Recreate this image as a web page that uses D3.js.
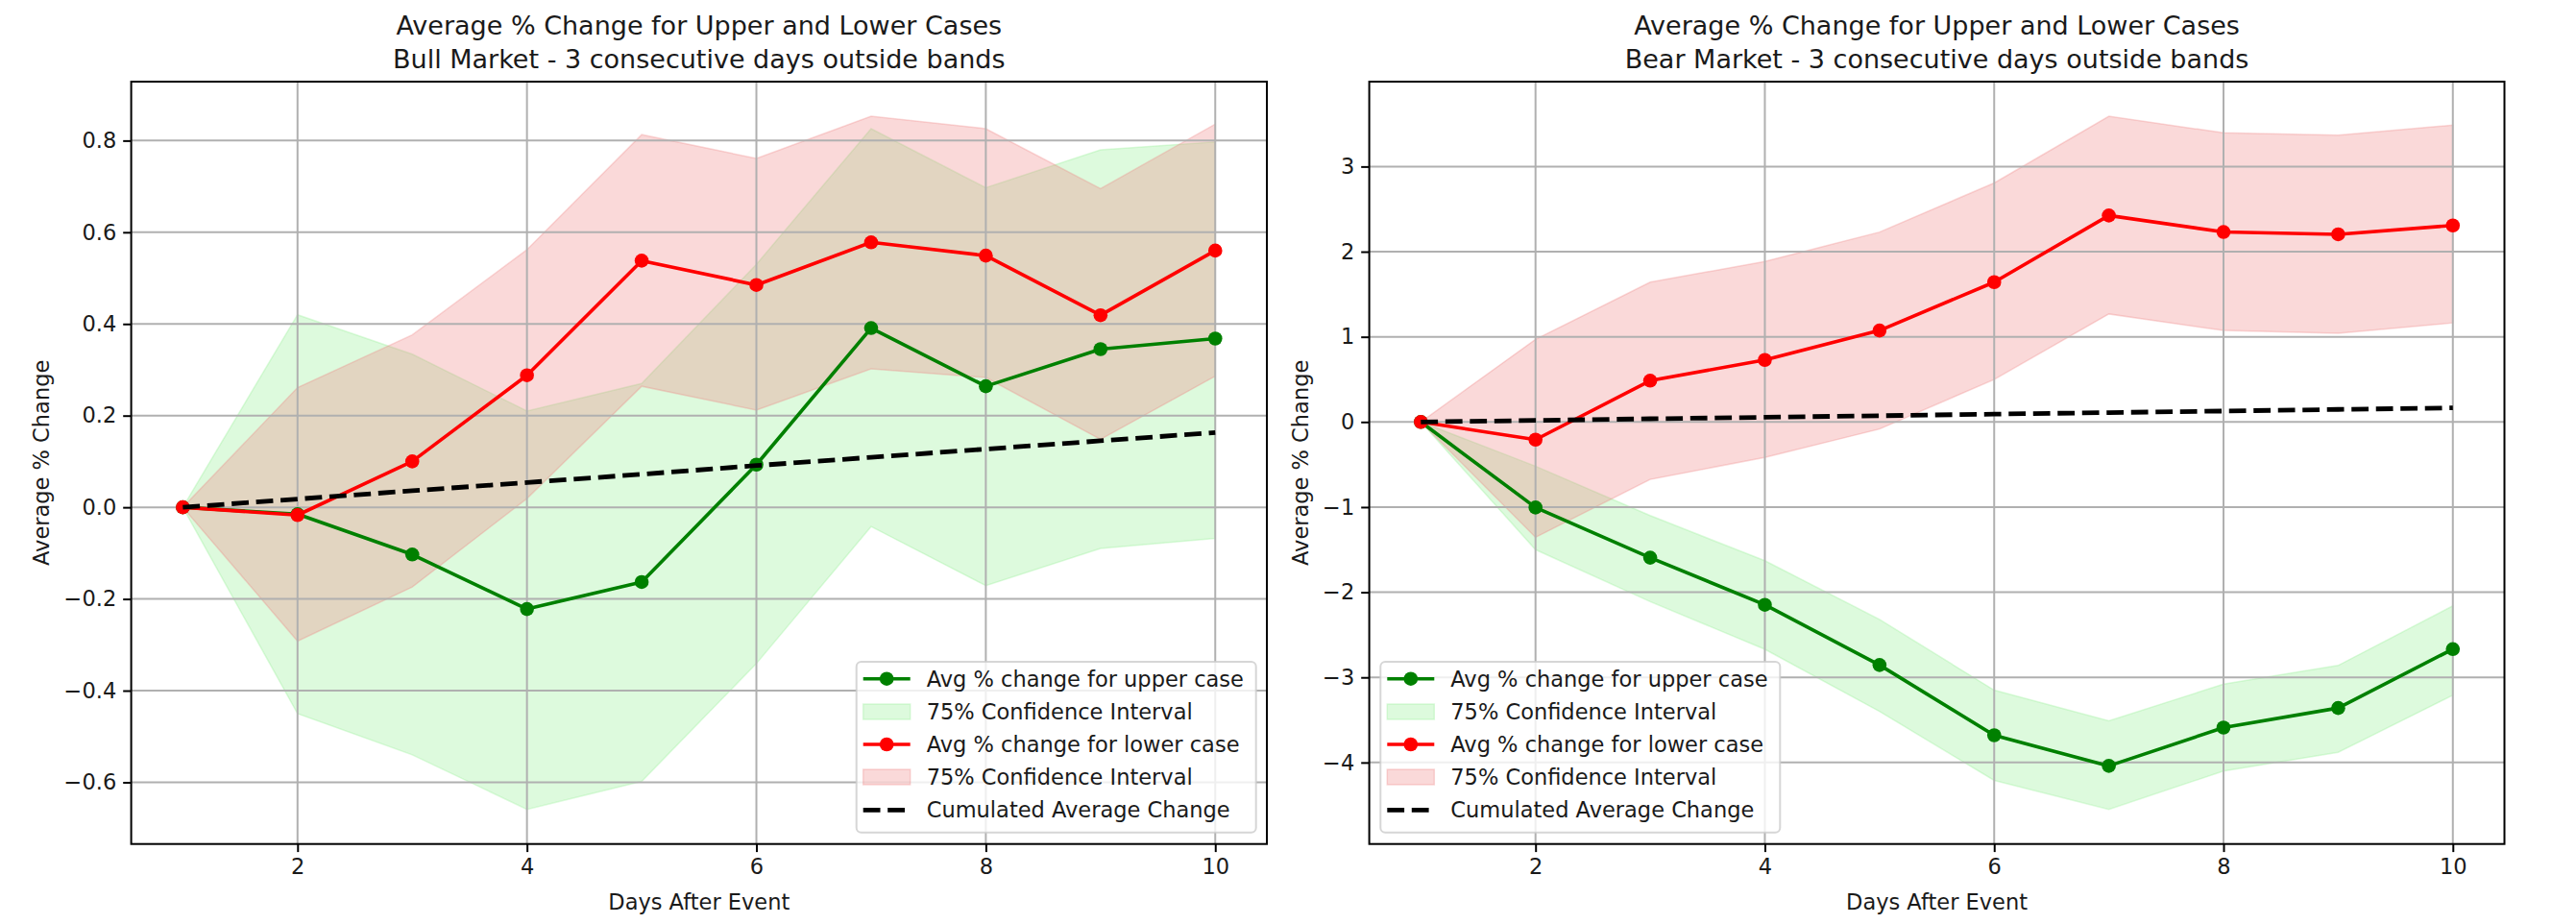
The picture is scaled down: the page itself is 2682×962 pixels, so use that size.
<!DOCTYPE html>
<html>
<head>
<meta charset="utf-8">
<script src="https://cdn.jsdelivr.net/npm/d3@7/dist/d3.min.js"></script>
<style>
  html, body { margin: 0; padding: 0; background: #fff; }
  svg { display: block; font-family: "DejaVu Sans", sans-serif; }
</style>
</head>
<body>
<svg id="chart" width="2682" height="962"></svg>
<script>
// ---------------- DATA ----------------
const days = [1, 2, 3, 4, 5, 6, 7, 8, 9, 10];

// Bull market
const bullUpperAvg = [0, -0.015, -0.103, -0.222, -0.163, 0.093, 0.391, 0.264, 0.345, 0.368];
const bullUpperLo  = [0, -0.450, -0.540, -0.659, -0.598, -0.341, -0.042, -0.171, -0.090, -0.068];
const bullUpperHi  = [0, 0.420, 0.334, 0.210, 0.270, 0.530, 0.826, 0.697, 0.780, 0.797];
const bullLowerAvg = [0, -0.017, 0.100, 0.288, 0.538, 0.485, 0.578, 0.549, 0.419, 0.560];
const bullLowerLo  = [0, -0.292, -0.174, 0.019, 0.264, 0.212, 0.302, 0.283, 0.148, 0.286];
const bullLowerHi  = [0, 0.261, 0.376, 0.562, 0.813, 0.761, 0.853, 0.826, 0.695, 0.836];
const bullCum      = [0, 0.018, 0.036, 0.054, 0.072, 0.091, 0.109, 0.127, 0.145, 0.163];

// Bear market
const bearUpperAvg = [0, -1.005, -1.594, -2.148, -2.855, -3.680, -4.040, -3.590, -3.360, -2.668];
const bearUpperLo  = [0, -1.500, -2.110, -2.670, -3.400, -4.210, -4.550, -4.100, -3.880, -3.210];
const bearUpperHi  = [0, -0.520, -1.100, -1.630, -2.320, -3.150, -3.510, -3.080, -2.860, -2.160];
const bearLowerAvg = [0, -0.208, 0.485, 0.728, 1.074, 1.642, 2.425, 2.231, 2.204, 2.308];
const bearLowerLo  = [0, -1.355, -0.675, -0.416, -0.083, 0.499, 1.268, 1.074, 1.040, 1.164];
const bearLowerHi  = [0, 0.970, 1.642, 1.885, 2.230, 2.807, 3.590, 3.396, 3.368, 3.486];
const bearCum      = [0, 0.018, 0.037, 0.055, 0.073, 0.092, 0.110, 0.128, 0.147, 0.165];

const xTicks = [2, 4, 6, 8, 10];
const bullYTicks = [-0.6, -0.4, -0.2, 0.0, 0.2, 0.4, 0.6, 0.8];
const bearYTicks = [-4, -3, -2, -1, 0, 1, 2, 3];

const titleLine1 = "Average % Change for Upper and Lower Cases";
const bullTitle2 = "Bull Market - 3 consecutive days outside bands";
const bearTitle2 = "Bear Market - 3 consecutive days outside bands";
const xLabel = "Days After Event";
const yLabel = "Average % Change";
const legendLabels = ["Avg % change for upper case", "75% Confidence Interval",
                      "Avg % change for lower case", "75% Confidence Interval",
                      "Cumulated Average Change"];

// ---------------- STYLE ----------------
const GREEN = "#008000", RED = "#ff0000";
const GREEN_FILL = "#90ee90", RED_FILL = "#f08080", FILL_OP = 0.3;
const FS = 22.5, TFS = 27;
const svg = d3.select("#chart");

function pad(ext) { const s = ext[1] - ext[0]; return [ext[0] - 0.05 * s, ext[1] + 0.05 * s]; }
const fmt2 = v => (v < 0 ? "\u2212" : "") + Math.abs(v).toFixed(1);
const fmt0 = v => (v < 0 ? "\u2212" : "") + Math.abs(v).toFixed(0);

function panel(cfg) {
  const {left, right, top, bottom} = cfg;
  const allY = [].concat(cfg.uLo, cfg.uHi, cfg.lLo, cfg.lHi, cfg.uAvg, cfg.lAvg, cfg.cum);
  const x = d3.scaleLinear().domain(pad(d3.extent(days))).range([left, right]);
  const y = d3.scaleLinear().domain(pad(d3.extent(allY))).range([bottom, top]);
  const g = svg.append("g");

  // fills
  const area = (lo, hi) => d3.area().x((d, i) => x(days[i])).y0((d, i) => y(lo[i])).y1((d, i) => y(hi[i]))(days);
  g.append("path").attr("d", area(cfg.uLo, cfg.uHi))
    .attr("fill", GREEN_FILL).attr("fill-opacity", FILL_OP)
    .attr("stroke", GREEN_FILL).attr("stroke-opacity", FILL_OP).attr("stroke-width", 1.5);
  g.append("path").attr("d", area(cfg.lLo, cfg.lHi))
    .attr("fill", RED_FILL).attr("fill-opacity", FILL_OP)
    .attr("stroke", RED_FILL).attr("stroke-opacity", FILL_OP).attr("stroke-width", 1.5);

  // grid
  const grid = g.append("g").attr("stroke", "#b0b0b0").attr("stroke-width", 2);
  cfg.yTicks.forEach(t => grid.append("line").attr("x1", left).attr("x2", right).attr("y1", y(t)).attr("y2", y(t)));
  xTicks.forEach(t => grid.append("line").attr("y1", top).attr("y2", bottom).attr("x1", x(t)).attr("x2", x(t)));

  // lines
  const line = arr => d3.line().x((d, i) => x(days[i])).y((d, i) => y(arr[i]))(days);
  function series(arr, color) {
    g.append("path").attr("d", line(arr)).attr("fill", "none").attr("stroke", color).attr("stroke-width", 3.6).attr("stroke-linejoin", "round");
    g.append("g").selectAll("circle").data(arr).join("circle")
      .attr("cx", (d, i) => x(days[i])).attr("cy", d => y(d)).attr("r", 7.3).attr("fill", color);
  }
  series(cfg.uAvg, GREEN);
  series(cfg.lAvg, RED);
  g.append("path").attr("d", line(cfg.cum)).attr("fill", "none").attr("stroke", "#000")
    .attr("stroke-width", 4.8).attr("stroke-dasharray", "17.8,7.7");

  // axes
  const xAxis = d3.axisBottom(x).tickValues(xTicks).tickSize(8.4).tickPadding(7).tickFormat(d3.format("d"));
  const yAxis = d3.axisLeft(y).tickValues(cfg.yTicks).tickSize(8.4).tickPadding(7).tickFormat(cfg.fmt);
  const gx = g.append("g").attr("transform", `translate(0,${bottom})`).call(xAxis);
  const gy = g.append("g").attr("transform", `translate(${left},0)`).call(yAxis);
  [gx, gy].forEach(a => {
    a.select(".domain").remove();
    a.selectAll(".tick line").attr("stroke", "#000").attr("stroke-width", 2);
    a.selectAll(".tick text").attr("fill", "#1a1a1a").style("font-size", FS + "px").style("font-family", "DejaVu Sans");
  });
  g.append("rect").attr("x", left).attr("y", top).attr("width", right - left).attr("height", bottom - top)
    .attr("fill", "none").attr("stroke", "#000").attr("stroke-width", 2);

  // titles and labels
  const cx = (left + right) / 2;
  g.append("text").attr("x", cx).attr("y", 36).attr("text-anchor", "middle").style("font-size", TFS + "px").attr("fill", "#1a1a1a").text(titleLine1);
  g.append("text").attr("x", cx).attr("y", 71).attr("text-anchor", "middle").style("font-size", TFS + "px").attr("fill", "#1a1a1a").text(cfg.title2);
  g.append("text").attr("x", cx).attr("y", 947).attr("text-anchor", "middle").style("font-size", FS + "px").attr("fill", "#1a1a1a").text(xLabel);
  g.append("text").attr("transform", `translate(${cfg.ylabX},${(top + bottom) / 2}) rotate(-90)`)
    .attr("text-anchor", "middle").style("font-size", FS + "px").attr("fill", "#1a1a1a").text(yLabel);

  // legend
  const L = cfg.legend;
  const lg = g.append("g");
  lg.append("rect").attr("x", L.x).attr("y", 689).attr("width", 416).attr("height", 177.7).attr("rx", 5)
    .attr("fill", "#fff").attr("fill-opacity", 0.8).attr("stroke", "#cccccc").attr("stroke-opacity", 0.8).attr("stroke-width", 2);
  const rows = [706.7, 741, 775, 809, 843.3];
  const hx0 = L.x + 7, hx1 = L.x + 56, tx = L.x + 73;
  const kinds = [["line", GREEN], ["patch", GREEN_FILL], ["line", RED], ["patch", RED_FILL], ["dash", "#000"]];
  kinds.forEach((k, i) => {
    const cy = rows[i];
    if (k[0] === "line") {
      lg.append("line").attr("x1", hx0).attr("x2", hx1).attr("y1", cy).attr("y2", cy).attr("stroke", k[1]).attr("stroke-width", 3.6);
      lg.append("circle").attr("cx", (hx0 + hx1) / 2).attr("cy", cy).attr("r", 7.3).attr("fill", k[1]);
    } else if (k[0] === "patch") {
      lg.append("rect").attr("x", hx0).attr("y", cy - 8).attr("width", hx1 - hx0).attr("height", 16)
        .attr("fill", k[1]).attr("fill-opacity", FILL_OP).attr("stroke", k[1]).attr("stroke-opacity", FILL_OP).attr("stroke-width", 1.5);
    } else {
      lg.append("line").attr("x1", hx0).attr("x2", hx1).attr("y1", cy).attr("y2", cy).attr("stroke", k[1])
        .attr("stroke-width", 4.8).attr("stroke-dasharray", "17.8,7.7");
    }
    lg.append("text").attr("x", tx).attr("y", cy).attr("dy", "0.36em").style("font-size", FS + "px").attr("fill", "#1a1a1a").text(legendLabels[i]);
  });
}

panel({left: 136.6, right: 1319, top: 85, bottom: 878.7,
  uAvg: bullUpperAvg, uLo: bullUpperLo, uHi: bullUpperHi,
  lAvg: bullLowerAvg, lLo: bullLowerLo, lHi: bullLowerHi, cum: bullCum,
  yTicks: bullYTicks, fmt: fmt2, title2: bullTitle2, ylabX: 51, legend: {x: 891.7}});

panel({left: 1425.6, right: 2607.5, top: 85, bottom: 878.7,
  uAvg: bearUpperAvg, uLo: bearUpperLo, uHi: bearUpperHi,
  lAvg: bearLowerAvg, lLo: bearLowerLo, lHi: bearLowerHi, cum: bearCum,
  yTicks: bearYTicks, fmt: fmt0, title2: bearTitle2, ylabX: 1362, legend: {x: 1437.3}});
</script>
</body>
</html>
